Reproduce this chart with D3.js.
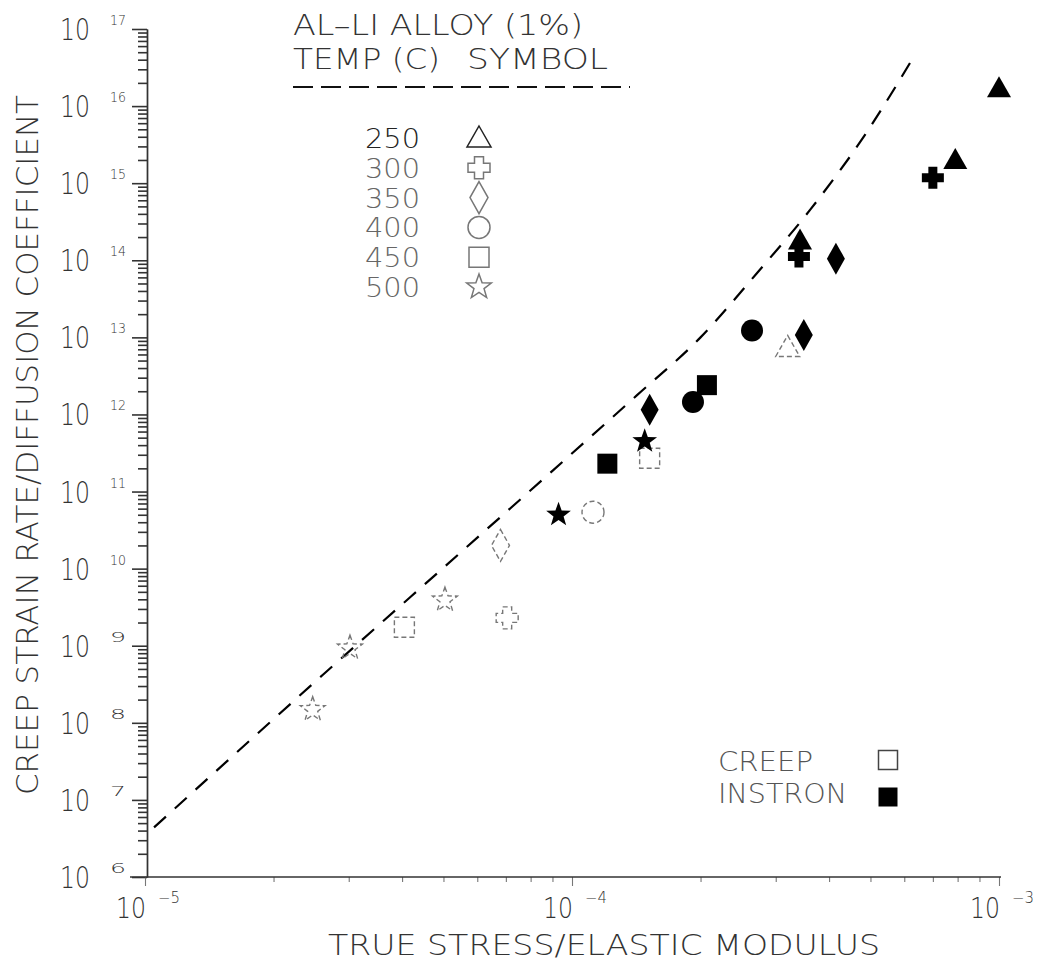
<!DOCTYPE html>
<html><head><meta charset="utf-8">
<script src="https://cdn.jsdelivr.net/npm/d3@7/dist/d3.min.js"></script>
<style>
body{margin:0;background:#fff}
text{font-family:"DejaVu Sans","Liberation Sans",sans-serif;font-weight:200;fill:#333}
</style>
</head><body>
<svg id="chart" width="1040" height="964"></svg>
<script>
// ---------- data ----------
const yDecades = [6,7,8,9,10,11,12,13,14,15,16,17];
const xDecades = [-5,-4,-3];
const legendTemps = ["250","300","350","400","450","500"];
const legendSymbols = ["triangle","cross","diamond","circle","square","star"];
const tempSymbol = {250:"triangle",300:"cross",350:"diamond",400:"circle",450:"square",500:"star"};

// INSTRON tests (filled symbols)
const instronTemp   = [250, 250, 250, 300, 300, 350, 350, 350, 400, 400, 450, 450, 500, 500];
const instronStress = [1.0e-3, 7.9e-4, 3.42e-4, 7.0e-4, 3.4e-4, 4.15e-4, 3.49e-4, 1.52e-4, 2.64e-4, 1.92e-4, 2.07e-4, 1.21e-4, 1.48e-4, 9.3e-5];
const instronRate   = [1.7e16, 2.0e15, 1.8e14, 1.18e15, 1.12e14, 1.05e14, 1.07e13, 1.15e12, 1.23e13, 1.45e12, 2.4e12, 2.3e11, 4.5e11, 5.0e10];

// CREEP tests (open symbols)
const creepTemp   = [500, 500, 500, 450, 450, 300, 350, 400, 250];
const creepStress = [2.47e-5, 3.02e-5, 5.04e-5, 4.05e-5, 1.52e-4, 7.05e-5, 6.8e-5, 1.12e-4, 3.2e-4];
const creepRate   = [1.48e8, 9.3e8, 3.9e9, 1.74e9, 2.7e11, 2.3e9, 2.0e10, 5.4e10, 7.4e12];

// dashed reference curve
const curveStress = [1.05e-5, 2.61e-5, 5.47e-5, 9.04e-5, 1.42e-4, 2.0e-4, 2.71e-4, 3.61e-4, 4.85e-4, 6.35e-4];
const curveRate   = [4.4e6, 4.2e8, 1.6e10, 1.9e11, 1.78e12, 1.0e13, 6.8e13, 4.5e14, 4.2e15, 4.6e16];

const titleText = "AL\u2013LI ALLOY (1%)";
const xTitle = "TRUE STRESS/ELASTIC MODULUS";
const yTitle = "CREEP STRAIN RATE/DIFFUSION COEFFICIENT";

// ---------- scales ----------
const svg = d3.select("#chart");
const x = d3.scaleLog().domain([1e-5, 1e-3]).range([145, 999]);
const y = d3.scaleLog().domain([1e6, 1e17]).range([877, 29]);

function symbolPath(t){
  switch(t){
    case "triangle": return "M0,-12L12,9L-12,9Z";
    case "cross": return "M-4.5,-11H4.5V-4.5H11V4.5H4.5V11H-4.5V4.5H-11V-4.5H-4.5Z";
    case "diamond": return "M0,-16L9,0L0,16L-9,0Z";
    case "circle": return "M11,0A11,11 0 1,1 -11,0A11,11 0 1,1 11,0Z";
    case "square": return "M-10,-10H10V10H-10Z";
    case "star": {
      let p=[];
      for(let i=0;i<10;i++){
        const r = i%2===0 ? 13 : 5.3;
        const a = -Math.PI/2 + i*Math.PI/5;
        p.push([r*Math.cos(a), r*Math.sin(a)]);
      }
      return "M"+p.map(q=>q[0].toFixed(2)+","+q[1].toFixed(2)).join("L")+"Z";
    }
  }
}

// ---------- axes ----------
const minorY = [];
yDecades.forEach(d=>{ if(d<17) for(let k=2;k<=9;k++) minorY.push(k*Math.pow(10,d)); });
const majorY = yDecades.map(d=>Math.pow(10,d));
const minorX = [];
xDecades.forEach(d=>{ if(d<-3) for(let k=2;k<=9;k++) minorX.push(k*Math.pow(10,d)); });
const majorX = xDecades.map(d=>Math.pow(10,d));

const gY = svg.append("g").attr("transform","translate(147,0)");
gY.append("g").call(d3.axisLeft(y).tickValues(minorY).tickFormat("").tickSize(9).tickSizeOuter(0));
gY.append("g").call(d3.axisLeft(y).tickValues(majorY).tickFormat("").tickSize(15).tickSizeOuter(0));
gY.selectAll("path.domain").attr("stroke","#333").attr("stroke-width",1.4);
gY.selectAll(".tick line").attr("stroke","#333").attr("stroke-width",1.6);

const gX = svg.append("g").attr("transform","translate(0,877)");
gX.append("g").call(d3.axisBottom(x).tickValues(minorX).tickFormat("").tickSize(5).tickSizeOuter(0));
gX.append("g").call(d3.axisBottom(x).tickValues(majorX).tickFormat("").tickSize(9).tickSizeOuter(0));
gX.selectAll("path.domain").attr("stroke","none");
gX.selectAll(".tick line").attr("stroke","#777").attr("stroke-width",1.1);
svg.append("line").attr("x1",130).attr("x2",1001).attr("y1",877).attr("y2",877)
  .attr("stroke","#333").attr("stroke-width",1.6);

// y tick labels
const yl = svg.append("g");
majorY.forEach((v,i)=>{
  const yy = y(v);
  yl.append("text").attr("x",75).attr("y",yy+11).attr("text-anchor","middle")
    .attr("font-size",30).attr("textLength",30).attr("lengthAdjust","spacingAndGlyphs").text("10");
  yl.append("text").attr("x",110).attr("y",yy-4).attr("font-size",14)
    .attr("textLength",16).attr("lengthAdjust","spacingAndGlyphs").text(String(yDecades[i]));
});
// x tick labels
majorX.forEach((v,i)=>{
  const xx = x(v);
  svg.append("text").attr("x",xx-14).attr("y",918).attr("text-anchor","middle")
    .attr("font-size",29).attr("textLength",30).attr("lengthAdjust","spacingAndGlyphs").text("10");
  svg.append("text").attr("x",xx+13).attr("y",903).attr("font-size",15)
    .attr("textLength",22).attr("lengthAdjust","spacingAndGlyphs").text("\u2212"+Math.abs(xDecades[i]));
});

// axis titles
svg.append("text").attr("x",328).attr("y",955).attr("font-size",29)
  .attr("textLength",552).attr("lengthAdjust","spacingAndGlyphs").text(xTitle);
svg.append("text").attr("transform","translate(38,795) rotate(-90)").attr("font-size",30)
  .attr("textLength",700).attr("lengthAdjust","spacingAndGlyphs").text(yTitle);

// ---------- dashed curve ----------
const curvePts = curveStress.map((s,i)=>[s,curveRate[i]]);
svg.append("path").datum(curvePts)
  .attr("d", d3.line().x(d=>x(d[0])).y(d=>y(d[1])).curve(d3.curveMonotoneX))
  .attr("fill","none").attr("stroke","#000").attr("stroke-width",2.2)
  .attr("stroke-dasharray","16,12");

// ---------- data points ----------
const creep = creepStress.map((s,i)=>({s, r:creepRate[i], t:tempSymbol[creepTemp[i]]}));
svg.append("g").selectAll("path").data(creep).join("path")
  .attr("transform",d=>`translate(${x(d.s)},${y(d.r)})`)
  .attr("d",d=>symbolPath(d.t))
  .attr("fill","none").attr("stroke","#777").attr("stroke-width",1.4)
  .attr("stroke-dasharray","5,3");

const instron = instronStress.map((s,i)=>({s, r:instronRate[i], t:tempSymbol[instronTemp[i]]}));
svg.append("g").selectAll("path").data(instron).join("path")
  .attr("transform",d=>`translate(${x(d.s)},${y(d.r)})`)
  .attr("d",d=>symbolPath(d.t))
  .attr("fill","#000");

// ---------- top legend ----------
svg.append("text").attr("x",293).attr("y",35).attr("font-size",28)
  .attr("textLength",290).attr("lengthAdjust","spacingAndGlyphs").text(titleText);
svg.append("text").attr("x",293).attr("y",69).attr("font-size",28)
  .attr("textLength",147).attr("lengthAdjust","spacingAndGlyphs").text("TEMP (C)");
svg.append("text").attr("x",467).attr("y",69).attr("font-size",28)
  .attr("textLength",141).attr("lengthAdjust","spacingAndGlyphs").text("SYMBOL");
svg.append("line").attr("x1",293).attr("x2",630).attr("y1",87).attr("y2",87)
  .attr("stroke","#111").attr("stroke-width",2).attr("stroke-dasharray","20,8");

const rowY = d3.scalePoint().domain(legendTemps).range([138, 287]);
legendTemps.forEach((t,i)=>{
  const yy = rowY(t);
  svg.append("text").attr("x",365).attr("y",yy+10).attr("font-size",27)
    .attr("textLength",55).attr("lengthAdjust","spacingAndGlyphs")
    .style("fill", i===0 ? "#222" : "#666").text(t);
  svg.append("path").attr("transform",`translate(479,${yy})`)
    .attr("d",symbolPath(legendSymbols[i]))
    .attr("fill","none").attr("stroke", i===0 ? "#222" : "#777").attr("stroke-width",1.5);
});

// ---------- bottom legend ----------
svg.append("text").attr("x",718).attr("y",771).attr("font-size",27)
  .attr("textLength",95).attr("lengthAdjust","spacingAndGlyphs").style("fill","#555").text("CREEP");
svg.append("path").attr("transform","translate(888,760)").attr("d","M-9.5,-9.5H9.5V9.5H-9.5Z")
  .attr("fill","none").attr("stroke","#444").attr("stroke-width",1.5);
svg.append("text").attr("x",718).attr("y",803).attr("font-size",27)
  .attr("textLength",129).attr("lengthAdjust","spacingAndGlyphs").style("fill","#555").text("INSTRON");
svg.append("path").attr("transform","translate(888,797)").attr("d","M-9.5,-9.5H9.5V9.5H-9.5Z")
  .attr("fill","#000");
</script>
</body></html>
